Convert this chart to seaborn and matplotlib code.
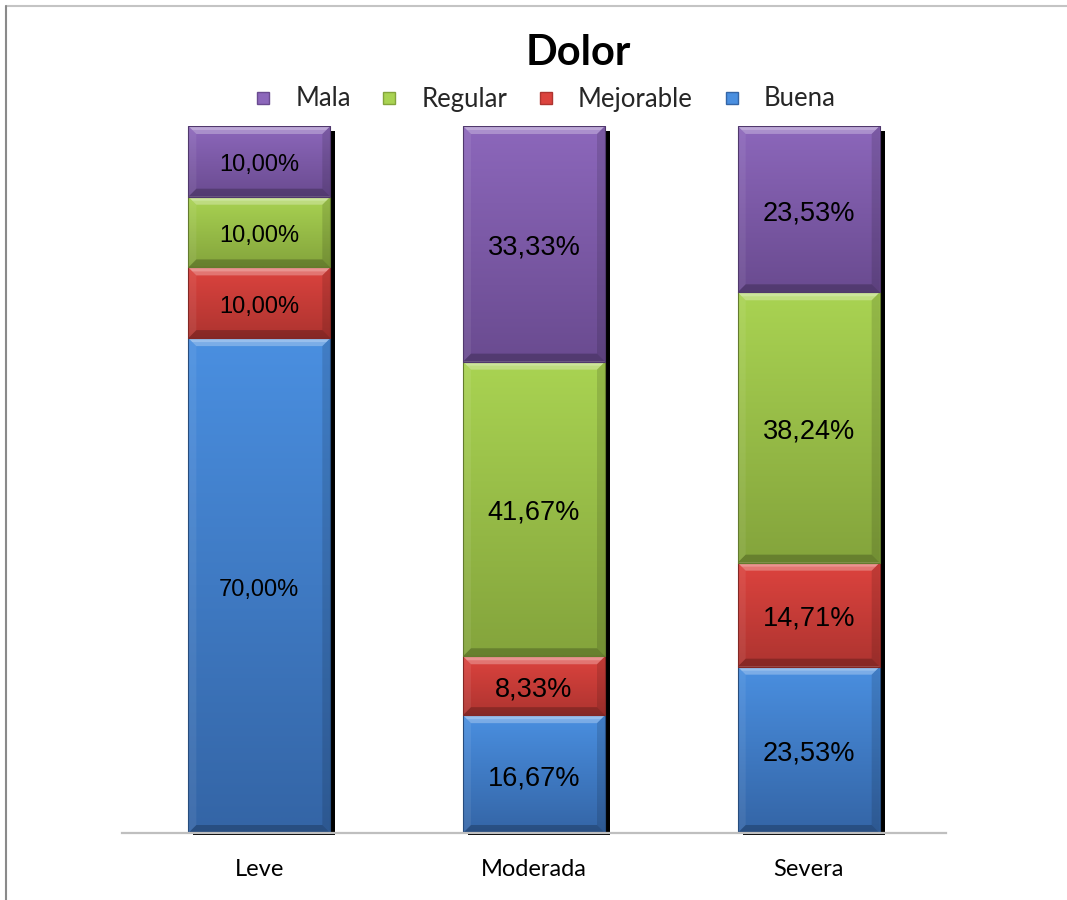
import numpy as np
import pandas as pd
import matplotlib
matplotlib.use("Agg")
import matplotlib.pyplot as plt
import seaborn as sns
from matplotlib.patches import Polygon, Rectangle
from matplotlib.lines import Line2D
from matplotlib.colors import to_rgb

# ---- data ----
categorias = ["Leve", "Moderada", "Severa"]
series = ["Buena", "Mejorable", "Regular", "Mala"]
buena = [70.00, 16.67, 23.53]
mejorable = [10.00, 8.33, 14.71]
regular = [10.00, 41.67, 38.24]
mala = [10.00, 33.33, 23.53]
valores = {"Buena": buena, "Mejorable": mejorable, "Regular": regular, "Mala": mala}

# light (top) / dark (bottom) shades for each series
tonos = {
    "Buena": ("#4a8fe0", "#3465a6"),
    "Mejorable": ("#dc433e", "#ae3430"),
    "Regular": ("#a9d352", "#84a43c"),
    "Mala": ("#8c67bb", "#6a4b90"),
}

sns.set_theme(style="white")
plt.rcParams["font.family"] = ["Lato", "DejaVu Sans"]

W, H = 1067, 900
fig = plt.figure(figsize=(W / 100, H / 100), dpi=100)
ax_l, ax_r, ax_b, ax_t = 122, 946, 833, 126
ax = fig.add_axes([ax_l / W, 1 - ax_b / H, (ax_r - ax_l) / W, (ax_b - ax_t) / H])

px_x = 3.0 / (ax_r - ax_l)
px_y = 100.0 / (ax_b - ax_t)
bar_w = 0.517

# stacked bars drawn through seaborn
segmentos = []  # (serie, patch, value)
base = np.zeros(len(categorias))
for s in series:
    antes = len(ax.patches)
    sns.barplot(x=categorias, y=valores[s], bottom=base.copy(), color=tonos[s][0],
                saturation=1, width=bar_w, ax=ax, zorder=3, linewidth=0,
                errorbar=None)
    for p, v in zip(ax.patches[antes:], valores[s]):
        segmentos.append((s, p, v))
    base = base + np.array(valores[s])

ax.set_xlim(-0.5, 2.5)
ax.set_ylim(0, 100)

# drop shadow behind each stacked column
for i, tot in enumerate(base):
    x0 = i - bar_w / 2 + 5 * px_x
    ax.add_patch(Rectangle((x0, -2 * px_y), bar_w, tot - 3 * px_y, facecolor="black",
                           edgecolor="none", zorder=2, clip_on=False))

# bevelled gradient fill on each segment
dx, dy = 8 * px_x, 8 * px_y
for s, p, v in segmentos:
    x0, y0 = p.get_x(), p.get_y()
    x1, y1 = x0 + p.get_width(), y0 + p.get_height()
    c_top, c_bot = np.array(to_rgb(tonos[s][0])), np.array(to_rgb(tonos[s][1]))
    t = np.linspace(0, 1, 64)[:, None]
    grad = (c_top[None, :] * (1 - t) + c_bot[None, :] * t)[:, None, :]
    img = ax.imshow(grad, extent=(x0, x1, y0, y1), origin="upper", aspect="auto",
                    interpolation="bilinear", zorder=4)
    img.set_clip_path(p)
    bevels = [
        ([(x0, y1), (x1, y1), (x1 - dx, y1 - dy), (x0 + dx, y1 - dy)], "white", 0.28),
        ([(x0, y1), (x1, y1), (x1 - dx / 2, y1 - dy / 2), (x0 + dx / 2, y1 - dy / 2)], "white", 0.22),
        ([(x0, y0), (x1, y0), (x1 - dx, y0 + dy), (x0 + dx, y0 + dy)], "black", 0.22),
        ([(x0, y0), (x0, y1), (x0 + dx, y1 - dy), (x0 + dx, y0 + dy)], "white", 0.07),
        ([(x1, y0), (x1, y1), (x1 - dx, y1 - dy), (x1 - dx, y0 + dy)], "black", 0.12),
    ]
    for pts, col, a in bevels:
        ax.add_patch(Polygon(pts, closed=True, facecolor=col, alpha=a, edgecolor="none", zorder=5))
    ax.add_patch(Rectangle((x0, y0), x1 - x0, y1 - y0, facecolor="none",
                           edgecolor=tuple(c_bot * 0.75), linewidth=0.8, zorder=6))
    i = int(round(x0 + bar_w / 2))
    size = 17 if i == 0 else 19.5
    ax.text(x0 + bar_w / 2, (y0 + y1) / 2 - 4 * px_y, f"{v:.2f}%".replace(".", ","),
            ha="center", va="center", fontsize=size, color="black",
            family=["Liberation Sans", "DejaVu Sans"], zorder=7)

# axes styling
for side in ["top", "right", "left"]:
    ax.spines[side].set_visible(False)
ax.spines["bottom"].set_color("#bfbfbf")
ax.spines["bottom"].set_linewidth(1.6)
ax.spines["bottom"].set_zorder(8)
ax.set_yticks([])
ax.set_xlabel("")
ax.set_ylabel("")
ax.tick_params(axis="x", length=0, pad=19, labelsize=17, labelcolor="black")

# title
fig.text(578 / W, 1 - 53 / H, "Dolor", ha="center", va="center",
         fontsize=30, fontweight="bold", color="black")

# legend
orden_leyenda = ["Mala", "Regular", "Mejorable", "Buena"]
handles = [Line2D([], [], marker="s", linestyle="", markersize=9,
                  markerfacecolor=tonos[s][0], markeredgecolor=tonos[s][1],
                  markeredgewidth=1) for s in orden_leyenda]
fig.legend(handles, orden_leyenda, loc="center", bbox_to_anchor=(543 / W, 1 - 99 / H),
           ncol=4, frameon=False, fontsize=18.5, handletextpad=0.75, columnspacing=1.0,
           handlelength=1.0)

# outer frame lines
fig.add_artist(Line2D([6 / W, 1], [1 - 6 / H, 1 - 6 / H], color="#c4c4c4", linewidth=1.5,
                      transform=fig.transFigure))
fig.add_artist(Line2D([6 / W, 6 / W], [0, 1 - 6 / H], color="#8a8a8a", linewidth=1.5,
                      transform=fig.transFigure))

fig.savefig("out.png", dpi=100)
